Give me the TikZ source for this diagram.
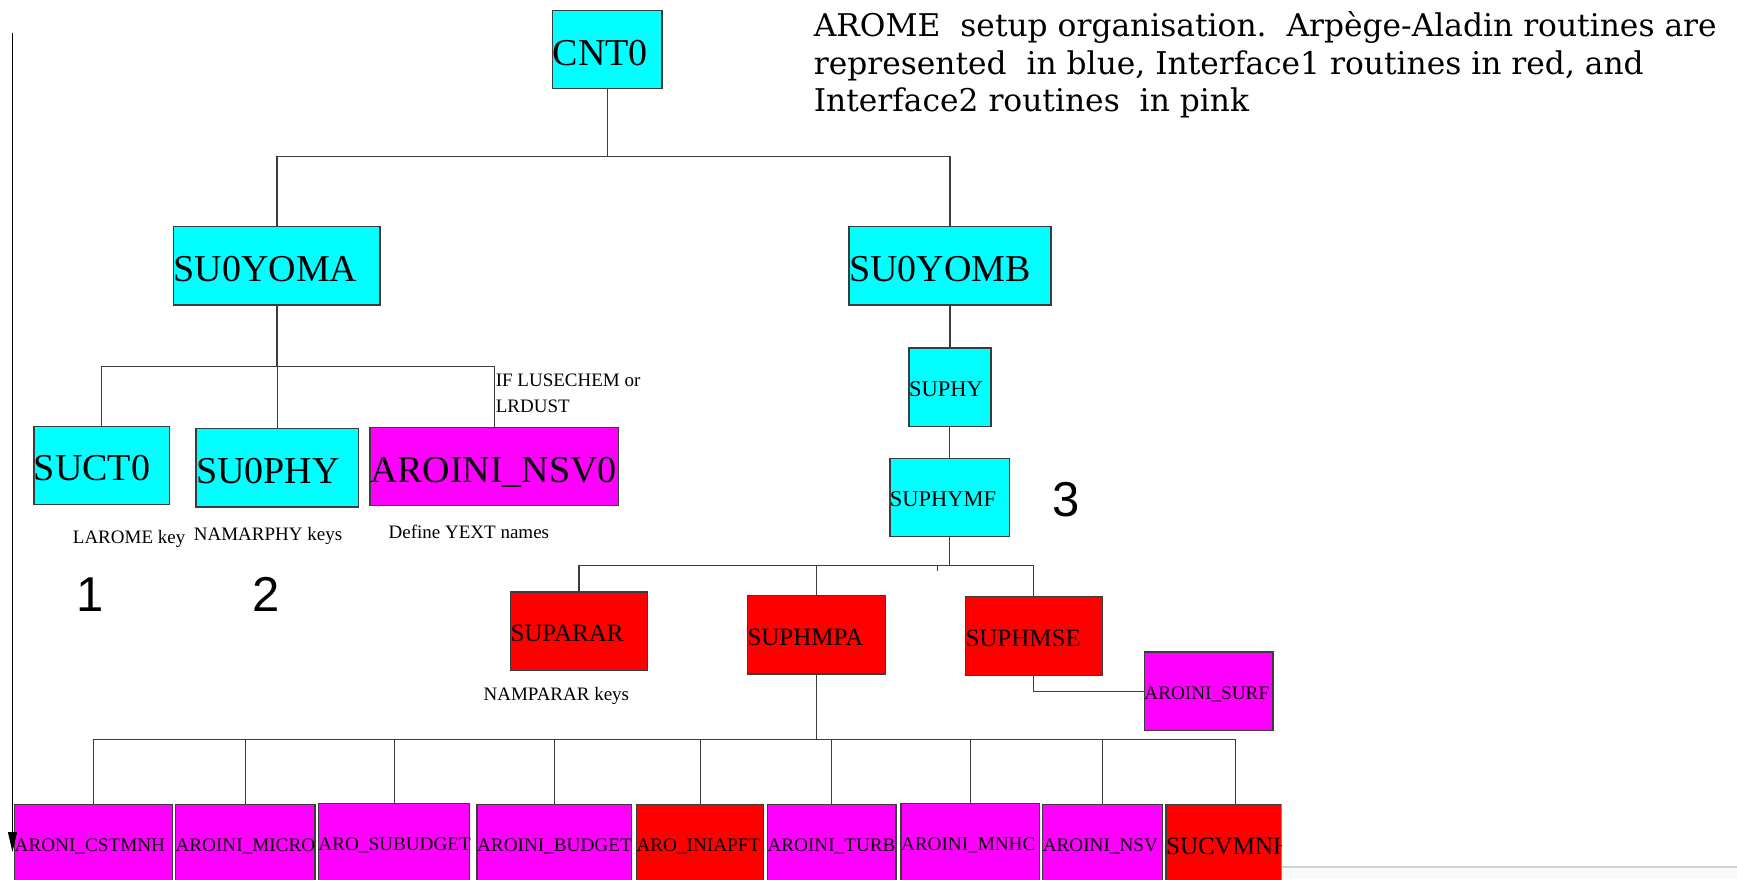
\documentclass[tikz,border=0pt]{standalone}
\usepackage{fontspec}
\setmainfont{Liberation Serif}
\newfontfamily\titlefont{DejaVu Serif}
\newfontfamily\numfont{Liberation Sans}
\usetikzlibrary{arrows.meta}
\uchyph=0
\definecolor{cy}{HTML}{00FFFF}
\definecolor{rd}{HTML}{FF0000}
\definecolor{mg}{HTML}{FF00FF}
\definecolor{edge}{HTML}{3C3C3C}
\tikzset{
  box/.style={draw=edge, line width=1.3pt, rectangle, inner xsep=0pt, inner ysep=0pt, align=left, text depth=0pt, minimum height=78.4pt},
  cyanbox/.style={box, fill=cy},
  redbox/.style={box, fill=rd},
  pinkbox/.style={box, fill=mg},
  big/.style={font=\fontsize{38}{40}\selectfont, text height=31.2pt},
  mid/.style={font=\fontsize{25}{27}\selectfont, text height=20.5pt},
  small/.style={font=\fontsize{22.5}{24}\selectfont, text height=18.5pt},
  tiny/.style={font=\fontsize{19.2}{21}\selectfont, text height=15.7pt},
  conn/.style={draw=edge, line width=1.2pt},
  note/.style={font=\fontsize{19}{21}\selectfont, inner sep=0pt, anchor=base west},
  num/.style={font=\numfont\fontsize{49}{50}\selectfont, inner sep=0pt, anchor=base},
  titleline/.style={font=\titlefont\fontsize{31.3}{36}\selectfont, inner sep=0pt, anchor=base west},
}
\begin{document}
\begin{tikzpicture}[x=1pt,y=-1pt]
\useasboundingbox (0,0) rectangle (1737,879);
\fill[white] (0,0) rectangle (1737,879);

% title
\node[titleline] (t1) at (813.6,36) {AROME\ \ setup organisation.\ \ Arpège-Aladin routines are};
\node[titleline] (t2) at (813.6,74) {represented\ \ in blue, Interface1 routines in red, and};
\node[titleline] (t3) at (813.6,111.7) {Interface2 routines\ \ in pink};

% top levels
\node[cyanbox, big, text width=109.3pt] (cnt0) at (607.35,49.5) {CNT0};
\node[cyanbox, big, text width=206.4pt] (yoma) at (276.9,265.85) {SU0YOMA};
\node[cyanbox, big, text width=202pt] (yomb) at (950,265.85) {SU0YOMB};
\node[cyanbox, small, text width=82pt] (suphy) at (950,387.15) {SUPHY};
\node[cyanbox, small, text width=119.6pt] (suphymf) at (949.7,497.5) {SUPHYMF};

\node[cyanbox, big, text width=135.9pt] (suct0) at (101.85,465.35) {SUCT0};
\node[cyanbox, big, text width=162.5pt] (su0phy) at (277.25,467.85) {SU0PHY};
\node[pinkbox, big, text width=248.8pt] (nsv0) at (494.4,466.5) {AROINI\_NSV0};

\node[redbox, mid, text width=137.1pt] (suparar) at (579.05,631.15) {SUPARAR};
\node[redbox, mid, text width=138.1pt] (suphmpa) at (816.55,634.85) {SUPHMPA};
\node[redbox, mid, text width=136.7pt] (suphmse) at (1033.85,636) {SUPHMSE};
\node[pinkbox, tiny, text width=128.7pt] (surf) at (1208.75,691.15) {AROINI\_SURF};

% bottom row
\node[pinkbox, tiny, text width=157.5pt] (cstmnh) at (93.45,844) {ARONI\_CSTMNH};
\node[pinkbox, tiny, text width=139.6pt] (micro) at (245.3,844) {AROINI\_MICRO};
\node[pinkbox, tiny, text width=151.4pt] (subudget) at (394.1,843) {ARO\_SUBUDGET};
\node[pinkbox, tiny, text width=154.7pt] (budget) at (554.45,844) {AROINI\_BUDGET};
\node[redbox, tiny, text width=127.2pt] (iniapft) at (700.1,844) {ARO\_INIAPFT};
\node[pinkbox, tiny, text width=128.4pt] (turb) at (831.7,844) {AROINI\_TURB};
\node[pinkbox, tiny, text width=138.8pt] (mnhc) at (970.4,843) {AROINI\_MNHC};
\node[pinkbox, tiny, text width=119.5pt] (nsv) at (1102.55,844) {AROINI\_NSV};
\begin{scope}
\clip (0,0) rectangle (1281.7,879);
\node[redbox, mid, text width=138.9pt] (sucvmnh) at (1235.55,844) {SUCVMNH};
\end{scope}

% notes
\node[note] (ifl) at (495.6,386.7) {IF LUSECHEM or};
\node[note] (lrd) at (495.6,412.7) {LRDUST};
\node[note] (lk) at (72.7,543.3) {LAROME key};
\node[note] (nk) at (193.7,540.7) {NAMARPHY keys};
\node[note] (dy) at (388.5,538.3) {Define YEXT names};
\node[note] (npk) at (483.4,700) {NAMPARAR keys};
\node[num] (n1) at (89.9,611.7) {1};
\node[num] (n2) at (266.4,611.7) {2};
\node[num] (n3) at (1066.2,516.7) {3};

% connectors
\coordinate (j1) at (608,156.7);
\draw[conn] (cnt0.south) -- (cnt0.south |- j1);
\draw[conn] (yoma.north) |- (j1) -| (yomb.north);
\coordinate (j2) at (276.9,366.5);
\draw[conn] (yoma.south) -- (j2);
\draw[conn] (suct0.north) |- (j2) -| (nsv0.north);
\draw[conn] (su0phy.north) -- (su0phy.north |- j2);
\draw[conn] (yomb.south) -- (suphy.north);
\draw[conn] (suphymf.north) -- (suphymf.north |- suphy.south);
\coordinate (j3) at (949.7,565.7);
\draw[conn] (suphymf.south) -- (j3);
\draw[conn] (suparar.north) |- (j3) -| (suphmse.north);
\draw[conn] (suphmpa.north) -- (suphmpa.north |- j3);
\coordinate (stub) at (936.9,570.7);
\draw[conn, line width=0.8pt] (stub) -- (stub |- j3);
\draw[conn] (suphmse.south) |- (surf.west);
\coordinate (j4) at (816.55,739.5);
\draw[conn] (suphmpa.south) -- (j4);
\draw[conn] (cstmnh.north) |- (j4) -| (sucvmnh.north);
\foreach \n in {micro,subudget,budget,iniapft,turb,mnhc,nsv}
  \draw[conn] (\n.north) -- (\n.north |- j4);
\draw[conn, line width=1.8pt] (j4) -- (j4 -| mnhc.north);

% left arrow
\coordinate (atop) at (12.5,32.7);
\coordinate (abot) at (12.5,852);
\draw[line width=1pt, -{Triangle[length=20pt,width=9pt]}] (atop) -- (abot);

% bottom-right grey rule
\fill[gray!5] (1282,867) rectangle (1737,879);
\draw[gray!35, line width=2pt] (1282,866.7) -- (1737,866.7);
\end{tikzpicture}
\end{document}
